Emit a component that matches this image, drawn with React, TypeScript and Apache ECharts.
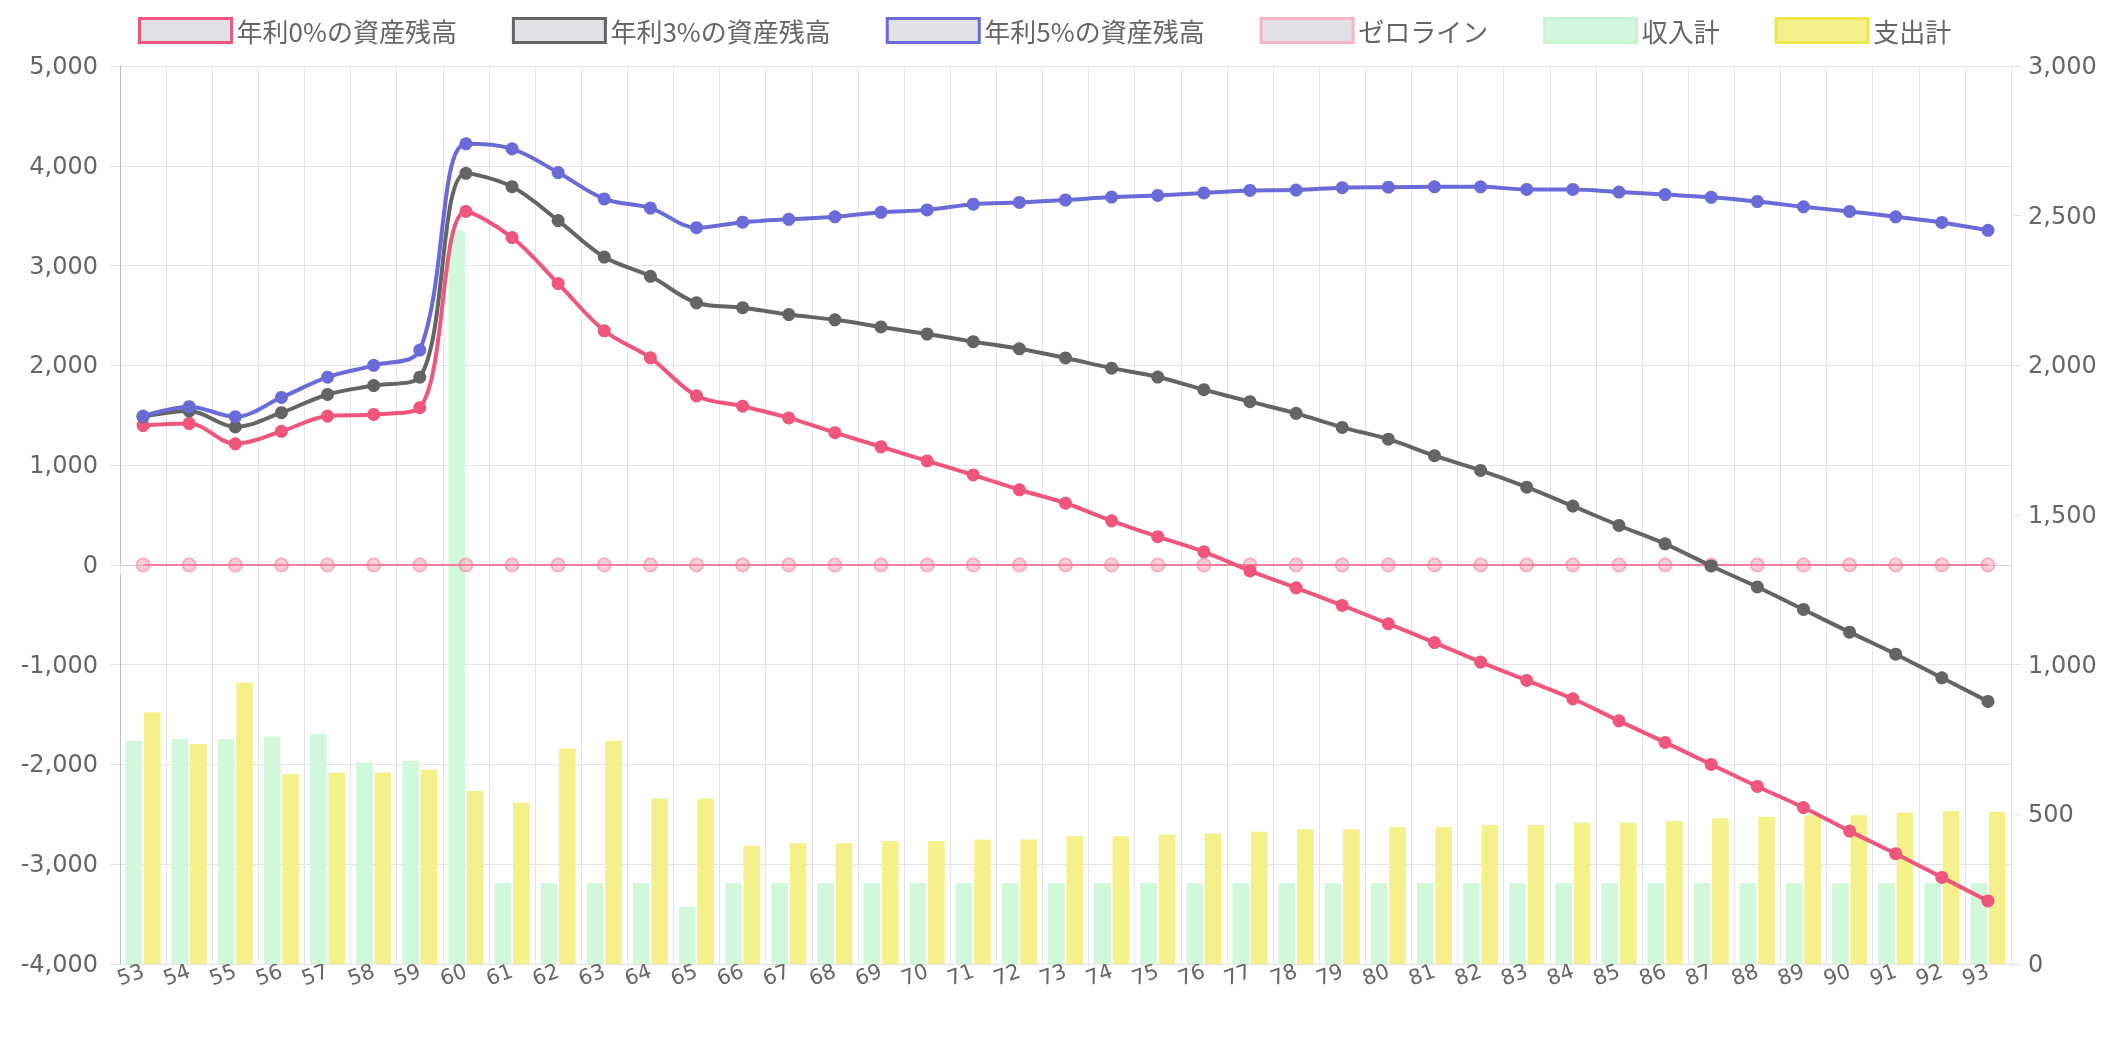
import React, { useEffect, useRef } from "react";
import * as echarts from "echarts";

const ages = ["53","54","55","56","57","58","59","60","61","62","63","64","65","66","67","68","69","70","71","72","73","74","75","76","77","78","79","80","81","82","83","84","85","86","87","88","89","90","91","92","93"];

const rate0 = [1397,1417,1214,1339,1492,1508,1576,3542,3281,2820,2346,2075,1695,1590,1473,1325,1184,1042,901,753,618,442,283,131,-60,-230,-406,-590,-779,-974,-1158,-1342,-1563,-1779,-2000,-2221,-2432,-2668,-2895,-3132,-3368];
const rate3 = [1485,1542,1383,1525,1708,1797,1881,3925,3790,3451,3085,2892,2627,2578,2509,2456,2385,2314,2237,2166,2074,1972,1883,1756,1636,1519,1378,1260,1095,947,779,589,395,211,-11,-221,-447,-674,-895,-1132,-1368];
const rate5 = [1492,1586,1485,1678,1881,2000,2153,4220,4170,3932,3668,3576,3380,3435,3463,3488,3534,3558,3615,3633,3657,3686,3703,3728,3753,3756,3781,3785,3789,3789,3763,3763,3737,3711,3684,3642,3589,3542,3489,3432,3353];
const zeroLine = [0,0,0,0,0,0,0,0,0,0,0,0,0,0,0,0,0,0,0,0,0,0,0,0,0,0,0,0,0,0,0,0,0,0,0,0,0,0,0,0,0];
const income = [746,752,752,761,768,673,679,2450,271,271,271,271,192,271,271,271,271,271,271,271,271,271,271,271,271,271,271,271,271,271,271,271,271,271,271,271,271,271,271,271,271];
const expense = [841,735,940,634,640,640,649,578,539,720,746,553,553,394,403,403,411,411,416,416,427,427,433,436,442,450,450,458,458,464,464,472,472,478,487,492,497,497,506,511,509];

const leftTicks = { min: -4000, max: 5000, interval: 1000 };
const rightTicks = { min: 0, max: 3000, interval: 500 };

const PINK = "#f0557c";
const GRAY = "#646464";
const BLUE = "#6a6ad9";
const GRID = "#e4e4e4";
const LABEL = "#666";
const NUM_FONT = "'DejaVu Sans', sans-serif";

const fmt = (v: number) => v.toLocaleString("en-US");

export default function App() {
  const ref = useRef<HTMLDivElement>(null);
  useEffect(() => {
    if (!ref.current) return;
    const chart = echarts.init(ref.current, undefined, { renderer: "svg" });
    const lineSeries = (name: string, data: number[], color: string) => ({
      name,
      type: "line",
      data,
      yAxisIndex: 0,
      smooth: 0.35,
      symbol: "circle",
      symbolSize: 13,
      lineStyle: { color, width: 4 },
      itemStyle: { color },
      z: 5,
    });
    chart.setOption({
      animation: false,
      textStyle: { fontFamily: NUM_FONT },
      legend: {
        top: 12,
        left: 133,
        itemWidth: 92,
        itemHeight: 24,
        itemGap: 55,
        textStyle: { fontSize: 26, color: LABEL, fontFamily: "'Noto Sans CJK JP', sans-serif" },
        data: [
          { name: "年利0%の資産残高", icon: "rect", itemStyle: { color: "#e2e2e6", borderColor: PINK, borderWidth: 3 } },
          { name: "年利3%の資産残高", icon: "rect", itemStyle: { color: "#e2e2e6", borderColor: GRAY, borderWidth: 3 } },
          { name: "年利5%の資産残高", icon: "rect", itemStyle: { color: "#e2e2e6", borderColor: BLUE, borderWidth: 3 } },
          { name: "ゼロライン", icon: "rect", itemStyle: { color: "#e2e2e6", borderColor: "#f7b3c2", borderWidth: 3 } },
          { name: "収入計", icon: "rect", itemStyle: { color: "#d4f8de", borderColor: "#c6f5d3", borderWidth: 3 } },
          { name: "支出計", icon: "rect", itemStyle: { color: "#f4f08c", borderColor: "#ede846", borderWidth: 3 } },
        ],
      },
      grid: { left: 120, right: 112, top: 66, bottom: 77 },
      xAxis: {
        type: "category",
        data: ages,
        boundaryGap: true,
        axisLine: { show: true, lineStyle: { color: "#cfcfcf" } },
        axisTick: { show: true, length: 10, lineStyle: { color: GRID } },
        splitLine: { show: true, interval: 0, lineStyle: { color: GRID } },
        axisLabel: { interval: 0, rotate: 20, fontSize: 21, color: LABEL, margin: 6, fontFamily: NUM_FONT },
      },
      yAxis: [
        {
          type: "value",
          ...leftTicks,
          axisLine: { show: true, lineStyle: { color: "#bdbdbd" } },
          axisTick: { show: true, length: 10, lineStyle: { color: GRID } },
          splitLine: { show: true, lineStyle: { color: GRID } },
          axisLabel: { fontSize: 24, color: LABEL, margin: 22, formatter: fmt, fontFamily: NUM_FONT },
        },
        {
          type: "value",
          position: "right",
          ...rightTicks,
          axisLine: { show: false },
          axisTick: { show: true, length: 10, lineStyle: { color: GRID } },
          splitLine: { show: false },
          axisLabel: { fontSize: 24, color: LABEL, margin: 17, formatter: fmt, fontFamily: NUM_FONT },
        },
      ],
      series: [
        lineSeries("年利0%の資産残高", rate0, PINK),
        lineSeries("年利3%の資産残高", rate3, GRAY),
        lineSeries("年利5%の資産残高", rate5, BLUE),
        {
          name: "ゼロライン",
          type: "line",
          data: zeroLine,
          yAxisIndex: 0,
          symbol: "circle",
          symbolSize: 13,
          lineStyle: { color: "#f47d99", width: 2 },
          itemStyle: { color: "rgba(250,150,170,0.45)", borderColor: "rgba(245,120,150,0.5)", borderWidth: 2 },
          z: 4,
        },
        {
          name: "収入計",
          type: "bar",
          data: income,
          yAxisIndex: 1,
          barWidth: "36%",
          barGap: "11%",
          itemStyle: { color: "#d2f8dc" },
          z: 2,
        },
        {
          name: "支出計",
          type: "bar",
          data: expense,
          yAxisIndex: 1,
          barWidth: "36%",
          barGap: "11%",
          itemStyle: { color: "#f4f08a" },
          z: 2,
        },
      ],
    });
    return () => chart.dispose();
  }, []);
  return <div ref={ref} style={{ position: "fixed", left: 0, top: 0, width: 2123, height: 1041 }} />;
}
